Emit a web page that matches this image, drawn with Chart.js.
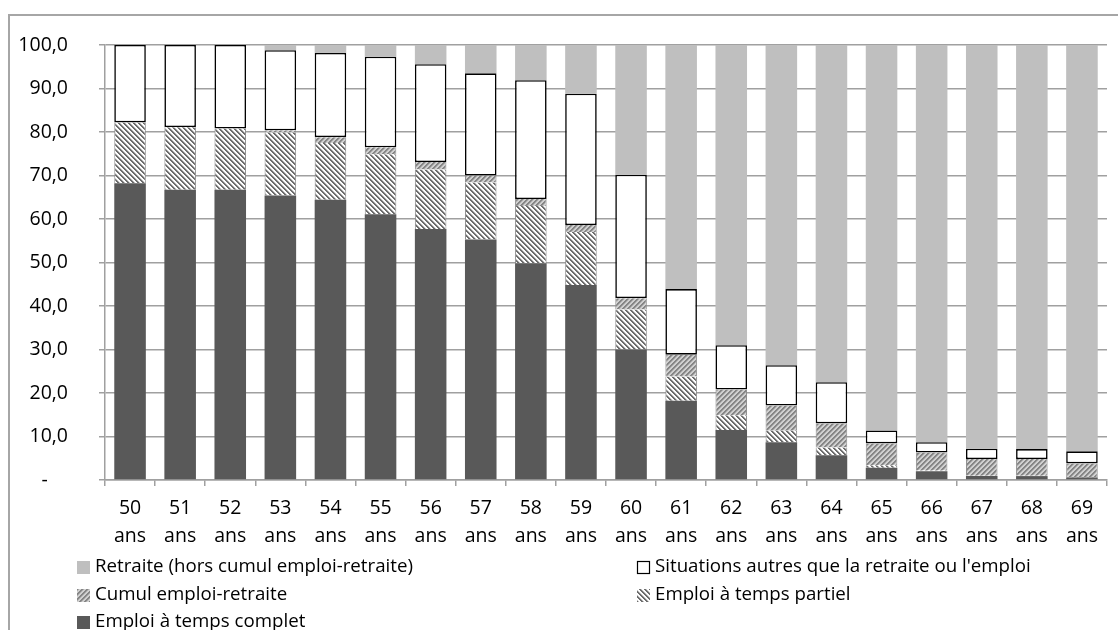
<!DOCTYPE html>
<html>
<head>
<meta charset="utf-8">
<script src="https://cdn.jsdelivr.net/npm/chart.js@4.4.1/dist/chart.umd.min.js"></script>
<style>
  html, body { margin: 0; padding: 0; background: #fff; }
  #wrap { position: relative; width: 1118px; height: 630px; overflow: hidden; }
  #frame { position: absolute; left: 8px; top: 14px; right: -10px; bottom: -10px;
           border-top: 2px solid #a6a6a6; border-left: 2px solid #a6a6a6; }
  canvas { position: absolute; left: 0; top: 0; }
</style>
</head>
<body>
<div id="wrap">
  <div id="frame"></div>
  <canvas id="chart" width="1118" height="630"></canvas>
</div>
<script>
// Age groups (x axis)
const ages = ['50', '51', '52', '53', '54', '55', '56', '57', '58', '59',
              '60', '61', '62', '63', '64', '65', '66', '67', '68', '69'];
const ageUnit = 'ans';

// Shares of each situation by age, in % (stacked bottom to top)
const tempsComplet = [68.2, 66.7, 66.7, 65.4, 64.4, 61.1, 57.7, 55.3, 49.8, 44.8,
                      30.0, 18.2, 11.5, 8.7, 5.7, 2.8, 2.0, 0.9, 0.9, 0.6];
const tempsPartiel = [14.0, 14.4, 14.1, 14.5, 13.1, 13.8, 13.7, 13.1, 13.2, 12.2,
                      9.2, 5.6, 3.4, 2.6, 1.8, 0.6, 0.2, 0.1, 0.1, 0.1];
const cumulEmploiRetraite = [0.0, 0.0, 0.0, 0.5, 1.3, 1.6, 1.7, 1.6, 1.6, 1.6,
                             2.6, 5.0, 5.9, 5.8, 5.5, 5.0, 4.1, 3.8, 3.8, 3.1];
const autresSituations = [17.8, 18.9, 19.2, 18.4, 19.4, 20.8, 22.5, 23.5, 27.3, 30.2,
                          28.4, 15.1, 10.2, 9.3, 9.5, 3.0, 2.4, 2.4, 2.3, 2.8];
const retraite = [0.0, 0.0, 0.0, 1.2, 1.8, 2.7, 4.4, 6.5, 8.1, 11.2,
                  29.8, 56.1, 69.0, 73.6, 77.5, 88.6, 91.3, 92.8, 92.9, 93.4];

// Y axis range and step
const yMin = 0, yMax = 100, yStep = 10;

const FONT = '"Open Sans"';
const AXIS_SIZE = 19.5;
const LEGEND_SIZE = 18.7;

// Diagonal hatch fill built from a small tile; shades holds one colour per diagonal step
function hatch(shades, forward) {
  const size = shades.length;
  const tile = document.createElement('canvas');
  tile.width = size; tile.height = size;
  const tctx = tile.getContext('2d');
  const img = tctx.createImageData(size, size);
  const parse = c => [parseInt(c.slice(1, 3), 16), parseInt(c.slice(3, 5), 16), parseInt(c.slice(5, 7), 16)];
  const cols = shades.map(parse);
  for (let y = 0; y < size; y++) {
    for (let x = 0; x < size; x++) {
      const k = forward ? (x + y) % size : ((x - y) % size + size) % size;
      const c = cols[k];
      const i = (y * size + x) * 4;
      img.data[i] = c[0]; img.data[i + 1] = c[1]; img.data[i + 2] = c[2]; img.data[i + 3] = 255;
    }
  }
  tctx.putImageData(img, 0, 0);
  return document.createElement('canvas').getContext('2d').createPattern(tile, 'repeat');
}

const partielFill = hatch(['#6e6e6e', '#6e6e6e', '#c4c4c4', '#ffffff', '#ffffff'], false);
const cumulFill = hatch(['#868686', '#868686', '#ababab', '#d0d0d0', '#d0d0d0'], true);

// Two-column legend below the axis, listed from the top of the stack down
const legendGrid = {
  id: 'legendGrid',
  afterDraw(chart) {
    const ctx = chart.ctx;
    const items = chart.data.datasets.slice().reverse();
    const colX = [77, 637];
    const rowY = [567, 595, 622];
    ctx.save();
    ctx.font = LEGEND_SIZE + 'px ' + FONT;
    ctx.textBaseline = 'middle';
    ctx.textAlign = 'left';
    items.forEach((d, i) => {
      const x = colX[i % 2];
      const y = rowY[Math.floor(i / 2)];
      ctx.fillStyle = d.backgroundColor;
      ctx.fillRect(x, y - 6, 13, 13);
      if (d.borderColor === '#000000') {
        ctx.strokeStyle = d.borderColor;
        ctx.lineWidth = 1.2;
        ctx.strokeRect(x + 0.5, y - 5.5, 12, 12);
      }
      ctx.fillStyle = '#000';
      ctx.fillText(d.label, x + 18, y);
    });
    ctx.restore();
  }
};

const barShape = { barPercentage: 0.63, categoryPercentage: 1.0 };
const sideEdges = { borderColor: '#8c8c8c', borderWidth: { left: 1, right: 1, top: 0, bottom: 0 } };

new Chart(document.getElementById('chart'), {
  type: 'bar',
  data: {
    labels: ages.map(a => [a, ageUnit]),
    datasets: [
      Object.assign({ label: 'Emploi à temps complet', data: tempsComplet,
        backgroundColor: '#595959', borderWidth: 0 }, barShape),
      Object.assign({ label: 'Emploi à temps partiel', data: tempsPartiel,
        backgroundColor: partielFill }, sideEdges, barShape),
      Object.assign({ label: 'Cumul emploi-retraite', data: cumulEmploiRetraite,
        backgroundColor: cumulFill }, sideEdges, barShape),
      Object.assign({ label: "Situations autres que la retraite ou l'emploi", data: autresSituations,
        backgroundColor: '#ffffff', borderColor: '#000000', borderWidth: 1.6,
        borderSkipped: false }, barShape),
      Object.assign({ label: 'Retraite (hors cumul emploi-retraite)', data: retraite,
        backgroundColor: '#bfbfbf', borderWidth: 0 }, barShape)
    ]
  },
  options: {
    responsive: false,
    animation: false,
    layout: { padding: { top: 45, right: 11, left: 0, bottom: 0 } },
    plugins: { legend: { display: false }, tooltip: { enabled: false } },
    scales: {
      x: {
        stacked: true,
        grid: { display: true, drawOnChartArea: false, drawTicks: true, tickLength: 6,
                color: '#a0a0a0', lineWidth: 1.5, offset: true },
        border: { display: true, color: '#a0a0a0', width: 1.5 },
        ticks: { color: '#000', font: { family: FONT, size: AXIS_SIZE, lineHeight: 1.4 },
                 padding: 9, maxRotation: 0, autoSkip: false },
        afterFit(scale) { scale.height = 150; }
      },
      y: {
        stacked: true,
        min: yMin, max: yMax,
        grid: { color: '#a0a0a0', lineWidth: 1.5, tickLength: 6 },
        border: { display: true, color: '#a0a0a0', width: 1.5 },
        ticks: {
          stepSize: yStep,
          color: '#000',
          font: { family: FONT, size: AXIS_SIZE },
          padding: 31,
          callback: v => v === 0 ? '-    ' : v.toFixed(1).replace('.', ',')
        },
        afterFit(scale) { scale.width = 105; }
      }
    }
  },
  plugins: [legendGrid]
});
</script>
</body>
</html>
